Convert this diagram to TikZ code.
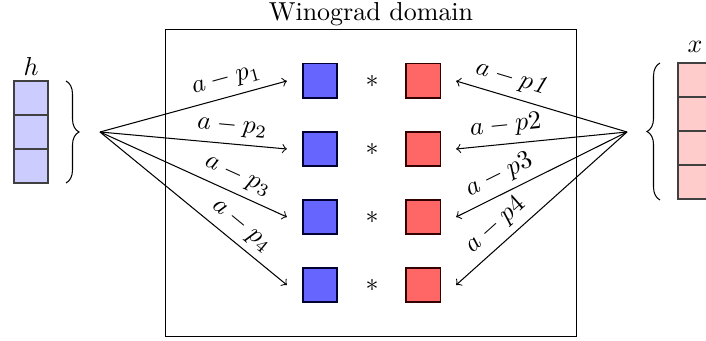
\documentclass[tikz,border=0pt]{standalone}
\usetikzlibrary{decorations.pathreplacing}
\begin{document}
\begin{tikzpicture}[x=0.385pt,y=-0.385pt,
  bsq/.style={draw=black!80!blue,fill=blue!60,minimum size=13.1pt,inner sep=0pt},
  rsq/.style={draw=black!80!red,fill=red!60,minimum size=13.1pt,inner sep=0pt},
  hcell/.style={draw=black!75,fill=blue!20,minimum size=13.09pt,inner sep=0pt,outer sep=0pt},
  xcell/.style={draw=black!75,fill=red!20,minimum size=13.09pt,inner sep=0pt,outer sep=0pt},
  arr/.style={->},
  lab/.style={above,sloped,pos=0.7,inner sep=2.5pt}]
\useasboundingbox (0,0) rectangle (706,341);
\node[draw,minimum width=158pt,minimum height=118pt,inner sep=0pt] (dom) at (371,183) {};
\node[anchor=south,inner sep=1pt] (title) at (dom.north) {Winograd domain};
% blue and red squares
\foreach \i/\y in {1/81,2/149,3/217,4/285}{
  \node[bsq] (b\i) at (320,\y) {};
  \node[rsq] (r\i) at (423,\y) {};
  \node (s\i) at (372,\y) {$*$};
}
% h array
\node[hcell] (h1) at (31,98) {};
\node[hcell] (h2) at (31,132) {};
\node[hcell] (h3) at (31,166) {};
\node (hl) at (31,66) {$h$};
% x array
\node[xcell] (x1) at (695,80) {};
\node[xcell] (x2) at (695,114) {};
\node[xcell] (x3) at (695,148) {};
\node[xcell] (x4) at (695,182) {};
\node (xl) at (695,47) {$x$};
% braces
\coordinate (lbt) at (66,81);
\coordinate (lbb) at (66,183);
\draw[decorate,decoration={brace,amplitude=5pt}] (lbt) -- (lbb);
\coordinate (rbt) at (660,63);
\coordinate (rbb) at (660,200);
\draw[decorate,decoration={brace,amplitude=5pt}] (rbb) -- (rbt);
% fan points
\coordinate (L) at (100,132);
\coordinate (R) at (627,132);
\draw[arr] (L) -- node[lab] {$a-p_1$} ([xshift=-6pt]b1.west);
\draw[arr] (L) -- node[lab] {$a-p_2$} ([xshift=-6pt]b2.west);
\draw[arr] (L) -- node[lab] {$a-p_3$} ([xshift=-6pt]b3.west);
\draw[arr] (L) -- node[lab] {$a-p_4$} ([xshift=-6pt]b4.west);
\draw[arr] (R) -- node[lab] {$a-p\mathit{1}$} ([xshift=6pt]r1.east);
\draw[arr] (R) -- node[lab] {$a-p2$} ([xshift=6pt]r2.east);
\draw[arr] (R) -- node[lab] {$a-p3$} ([xshift=6pt]r3.east);
\draw[arr] (R) -- node[lab] {$a-p4$} ([xshift=6pt]r4.east);
\end{tikzpicture}
\end{document}
